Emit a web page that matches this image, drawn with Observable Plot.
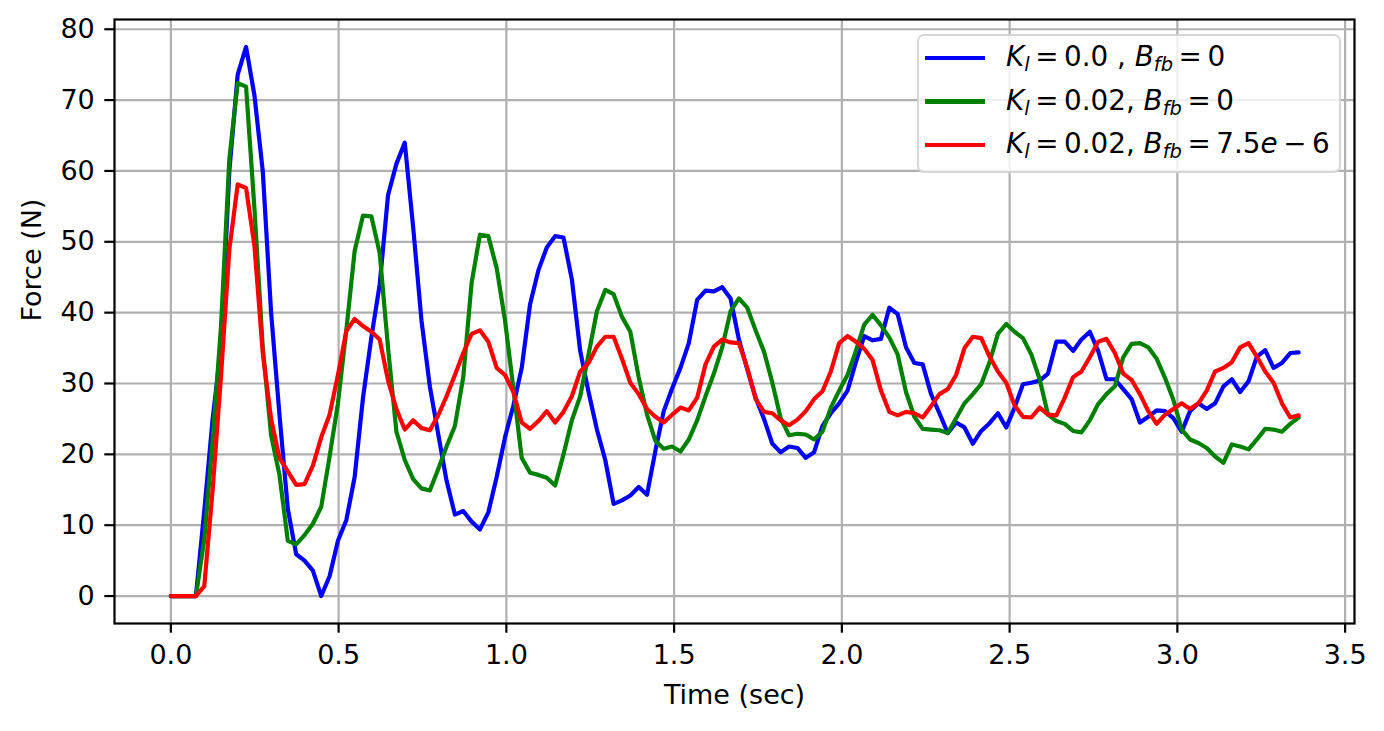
<!DOCTYPE html>
<html>
<head>
<meta charset="utf-8">
<script src="https://cdn.jsdelivr.net/npm/d3@7"></script>
<script src="https://cdn.jsdelivr.net/npm/@observablehq/plot@0.6"></script>
<style>
  html, body { margin: 0; padding: 0; background: #fff; }
  #wrap { position: relative; width: 1384px; height: 731px; font-family: "DejaVu Sans", sans-serif; }
  .lg-box { position: absolute; left: 917px; top: 34px; width: 424px; height: 139px; box-sizing: border-box;
    border: 2.2px solid rgba(204,204,204,0.8); border-radius: 7px; background: rgba(255,255,255,0.8); }
  .lg-line { position: absolute; left: 925px; width: 60px; height: 4.2px; }
  .lg-text { position: absolute; left: 1006px; font-size: 27.8px; line-height: 32px; white-space: nowrap; color: #000; }
  .sb { font-size: 70%; position: relative; top: 0.28em; font-style: italic; }
  .op { margin: 0 0.2em; }
</style>
</head>
<body>
<div id="wrap"></div>
<script>
// ---- data (sampling step of the time axis, seconds) ----
const dt = 0.0249;

const seriesNames = ["Kl=0.0, Bfb=0", "Kl=0.02, Bfb=0", "Kl=0.02, Bfb=7.5e-6"];
const seriesColors = ["#0000ff", "#008000", "#ff0000"];

const forceBlue = [
  0, 0, 0, 0, 12, 25, 35, 60, 73.6, 77.5,
  70.7, 60, 40, 25.6, 12.3, 5.9, 5.0, 3.6, 0, 2.8,
  7.8, 10.7, 16.8, 28, 36.5, 44, 56.6, 61, 64, 52.1,
  38.9, 29.6, 22.9, 16.3, 11.5, 12.0, 10.5, 9.4, 11.8, 16.8,
  22.4, 26.9, 32.2, 41.2, 46.0, 49.2, 50.8, 50.6, 44.7, 34.6,
  28.8, 23.5, 19.2, 13.0, 13.5, 14.2, 15.4, 14.3, 20.5, 26.1,
  29.3, 32.2, 35.7, 41.8, 43.1, 43.0, 43.6, 42.0, 36.2, 32.0,
  28.0, 25.0, 21.5, 20.3, 21.1, 20.9, 19.5, 20.3, 24.0, 25.8,
  27.2, 29.0, 33.0, 36.7, 36.1, 36.3, 40.7, 39.8, 35.1, 32.9,
  32.7, 28.5, 25.8, 23.0, 24.5, 23.8, 21.5, 23.3, 24.4, 25.8,
  23.8, 26.6, 29.9, 30.1, 30.4, 31.4, 35.9, 35.9, 34.6, 36.2,
  37.3, 34.6, 30.6, 30.6, 29.2, 27.8, 24.5, 25.3, 26.2, 26.1,
  25.1, 23.2, 26.1, 27.2, 26.4, 27.2, 29.6, 30.6, 28.8, 30.3,
  33.8, 34.7, 32.2, 32.9, 34.3, 34.4
];

const forceGreen = [
  0, 0, 0, 0, 8, 22, 38, 61.7, 72.4, 71.9,
  54.8, 35.1, 22.7, 17.1, 7.8, 7.3, 8.6, 10.2, 12.6, 19.7,
  27.2, 37.5, 48.7, 53.7, 53.6, 48.4, 35, 23.2, 19.2, 16.5,
  15.2, 14.9, 17.9, 21.1, 24, 30.9, 44.2, 51.0, 50.8, 46.3,
  38.9, 29.3, 19.5, 17.4, 17.1, 16.7, 15.6, 20, 24.8, 28.2,
  34.1, 40.2, 43.2, 42.6, 39.4, 37.3, 30.9, 25.6, 21.9, 20.8,
  21.1, 20.4, 22.1, 24.8, 28.2, 31.4, 35.1, 40.2, 42.0, 40.7,
  37.5, 34.5, 30.1, 25.1, 22.7, 22.9, 22.8, 22.1, 23.2, 26.6,
  29.0, 31.2, 34.6, 38.3, 39.7, 38.2, 36.5, 34.1, 28.8, 25.3,
  23.6, 23.5, 23.4, 23.0, 25.1, 27.2, 28.5, 29.9, 33.0, 37.0,
  38.4, 37.3, 36.4, 34.1, 30.6, 25.6, 24.7, 24.3, 23.3, 23.1,
  24.8, 27.1, 28.5, 29.6, 33.7, 35.6, 35.7, 35.1, 33.5, 30.8,
  27.7, 23.5, 22.1, 21.6, 20.9, 19.7, 18.8, 21.4, 21.1, 20.7,
  22.1, 23.6, 23.5, 23.2, 24.3, 25.2
];

const forceRed = [
  0, 0, 0, 0, 1.4, 15, 31, 48.9, 58.1, 57.6,
  49.5, 34.3, 25, 19.5, 17.6, 15.7, 15.8, 18.4, 22.4, 25.6,
  31.2, 37.4, 39.1, 38.1, 37.3, 36.2, 30.4, 26.4, 23.5, 24.8,
  23.7, 23.4, 25.5, 28.2, 31.2, 34.3, 37.0, 37.5, 35.9, 32.2,
  31.2, 28.8, 24.5, 23.6, 24.7, 26.1, 24.5, 26.0, 28.2, 31.7,
  32.9, 35.2, 36.6, 36.6, 33.5, 30.1, 28.5, 26.4, 25.3, 24.5,
  25.6, 26.6, 26.2, 28.0, 32.7, 35.2, 36.2, 35.8, 35.7, 32.2,
  27.8, 26.0, 25.8, 24.8, 24.1, 24.9, 26.1, 27.8, 28.9, 31.7,
  35.7, 36.7, 35.9, 34.9, 33.3, 29.0, 26.0, 25.5, 26.0, 25.8,
  25.2, 26.8, 28.5, 29.2, 31.2, 35.0, 36.6, 36.4, 33.8, 31.7,
  30.1, 26.9, 25.3, 25.2, 26.6, 25.6, 25.5, 28.0, 30.9, 31.7,
  33.7, 35.9, 36.3, 34.3, 31.4, 30.5, 28.5, 26.1, 24.3, 25.6,
  26.4, 27.2, 26.4, 27.2, 29.0, 31.7, 32.2, 33.0, 35.1, 35.7,
  33.8, 31.7, 30.1, 27.2, 25.2, 25.5
];

const xTicks = [0, 0.5, 1.0, 1.5, 2.0, 2.5, 3.0, 3.5];
const yTicks = [0, 10, 20, 30, 40, 50, 60, 70, 80];
const xLabel = "Time (sec)";
const yLabel = "Force (N)";

// ---- build tables ----
const allValues = [forceBlue, forceGreen, forceRed];
const tables = allValues.map((vals, k) => vals.map((v, i) => ({t: i * dt, v, s: seriesNames[k]})));

const chart = Plot.plot({
  width: 1384,
  height: 731,
  marginLeft: 114,
  marginRight: 30,
  marginTop: 19,
  marginBottom: 108,
  style: {fontFamily: "DejaVu Sans", fontSize: "27px", color: "black", background: "white"},
  x: {domain: [-0.168, 3.528]},
  y: {domain: [-3.875, 81.375]},
  marks: [
    Plot.gridX(xTicks, {stroke: "#b0b0b0", strokeOpacity: 1, strokeWidth: 2.2}),
    Plot.gridY(yTicks, {stroke: "#b0b0b0", strokeOpacity: 1, strokeWidth: 2.2}),
    ...tables.map((tb, k) => Plot.line(tb, {x: "t", y: "v", stroke: seriesColors[k], strokeWidth: 4.2, strokeLinejoin: "round"})),
    Plot.frame({stroke: "black", strokeWidth: 2.2}),
    Plot.axisX(xTicks, {tickSize: 9.7, tickPadding: 12, strokeWidth: 2.2, tickFormat: d3.format(".1f"), label: null}),
    Plot.axisY(yTicks, {tickSize: 9.7, tickPadding: 10, strokeWidth: 2.2, tickFormat: d3.format("d"), label: null}),
    Plot.text([xLabel], {frameAnchor: "bottom", dy: 80, fill: "black"}),
    Plot.text([yLabel], {frameAnchor: "left", rotate: -90, dx: -82, fill: "black"})
  ]
});

const wrap = document.getElementById("wrap");
wrap.appendChild(chart);

// ---- legend (matplotlib style, math text) ----
const EQ = '<span class="op">=</span>';
const legendHTML = [
  '<i>K</i><span class="sb">l</span>' + EQ + '0.0 , <i>B</i><span class="sb">fb</span>' + EQ + '0',
  '<i>K</i><span class="sb">l</span>' + EQ + '0.02, <i>B</i><span class="sb">fb</span>' + EQ + '0',
  '<i>K</i><span class="sb">l</span>' + EQ + '0.02, <i>B</i><span class="sb">fb</span>' + EQ + '7.5<i>e</i><span class="op">&minus;</span>6'
];
const box = document.createElement("div");
box.className = "lg-box";
wrap.appendChild(box);
legendHTML.forEach((h, i) => {
  const yc = 58 + 43.5 * i;
  const ln = document.createElement("div");
  ln.className = "lg-line";
  ln.style.top = (yc - 2.1) + "px";
  ln.style.background = seriesColors[i];
  wrap.appendChild(ln);
  const tx = document.createElement("div");
  tx.className = "lg-text";
  tx.style.top = (yc - 17) + "px";
  tx.innerHTML = h;
  wrap.appendChild(tx);
});
</script>
</body>
</html>
